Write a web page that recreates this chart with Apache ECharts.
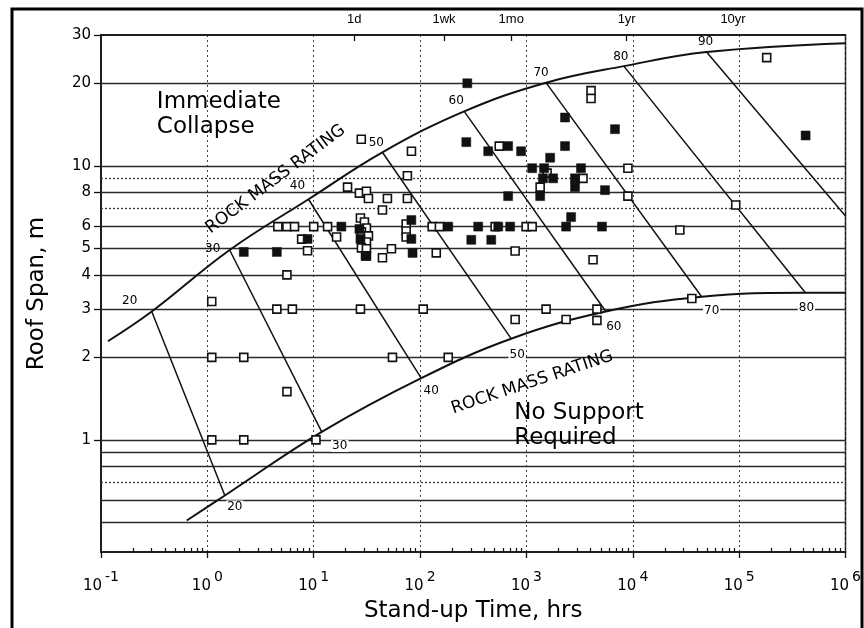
<!DOCTYPE html>
<html><head><meta charset="utf-8">
<script src="https://cdn.jsdelivr.net/npm/echarts@6/dist/echarts.min.js"></script>
<style>html,body{margin:0;padding:0;background:#fff}#c{width:864px;height:628px}</style>
</head><body><div id="c"></div>
<script>
// ---------- data (stand-up time in hours, roof span in metres) ----------
const spanTicks = [1, 2, 3, 4, 5, 6, 8, 10, 20, 30];
const spanLinesSolid = [20, 10, 8, 6, 5, 4, 3, 2, 1, 0.9, 0.8, 0.6, 0.5];
const spanLinesDotted = [9, 7, 0.7];
const timeMarks = [24, 168, 720, 8760, 87600];
const timeMarkNames = ['1d', '1wk', '1mo', '1yr', '10yr'];
const minorTimeTicks = [];
[0.1, 1, 10, 100, 1000, 10000, 100000].forEach(d => { for (let k = 2; k <= 9; k++) minorTimeTicks.push(d * k); });

const upperCurve = [[0.116,2.29],[0.30,2.94],[1.62,4.93],[8.93,7.55],[44.2,11.2],[260,15.8],[1528,20.1],[8240,23.1],[49400,26.0],[1e6,28.0]];
const lowerCurve = [[0.64,0.508],[1.46,0.627],[11.9,1.07],[102.5,1.68],[718,2.34],[5580,2.94],[44400,3.33],[420000,3.44],[1e6,3.44]];

const rmrValues = [20, 30, 40, 50, 60, 70, 80, 90];
const rmrTop = [[0.30,2.94],[1.62,4.93],[8.93,7.55],[44.2,11.2],[260,15.8],[1528,20.1],[8240,23.1],[49400,26.0]];
const rmrBottom = [[1.46,0.627],[11.9,1.07],[102.5,1.68],[718,2.34],[5580,2.94],[44400,3.33],[420000,3.44],[1e6,6.56]];

const openCases = [
[1.1,1],[2.2,1],[10.5,1],[1.1,2],[2.2,2],[5.6,1.5],[55,2],[184,2],[1.1,3.2],[4.5,3],[6.3,3],[27.5,3],[107,3],
[1530,3],[783,2.75],[2360,2.75],[4600,3.0],[4600,2.73],[35900,3.28],[5.6,4],[4230,4.54],
[4.6,6],[5.6,6],[6.6,6],[10,6],[13.5,6],[7.7,5.4],[8.75,4.9],[16.4,5.5],[28,12.5],[83,11.3],[76,9.2],
[20.8,8.36],[26.9,7.95],[31.3,8.07],[32.7,7.6],[49.3,7.6],[76,7.6],[44.3,6.9],
[27.5,6.45],[30,6.24],[31.3,5.93],[28.1,5.74],[32.7,5.55],[31.3,5.27],[28.1,5.02],[31.3,4.98],[31.3,4.69],
[74,6.13],[74,5.78],[74,5.5],[44.3,4.62],[53.8,4.98],[142,4.81],[130,6],[152,6],[508,6],[994,6],[1132,6],
[555,11.8],[1563,9.4],[1346,8.36],[3404,9.0],[4050,18.8],[4050,17.6],[9000,9.8],[9000,7.75],[783,4.89],
[181600,24.8],[92900,7.19],[27700,5.83]
];
const filledCases = [
[2.2,4.85],[4.5,4.85],[8.75,5.41],[18.2,6],[30.7,4.69],[26.9,5.88],[27.5,5.41],[82.8,6.34],[82.8,5.41],[85,4.81],
[184,6],[303,5.37],[467,5.37],[352,6],[543,6],[703,6],[2360,6],[5130,6],[2630,6.5],[278,20],[272,12.2],[437,11.3],
[673,11.8],[891,11.3],[2306,15.0],[2306,11.8],[6800,13.6],[1671,10.7],[1132,9.8],[1466,9.8],[1430,9.0],[1782,9.0],
[1346,7.75],[673,7.75],[3257,9.8],[2863,9.0],[2863,8.36],[5480,8.15],[421700,12.9]
];

// annotation anchors (data coordinates)
const notes = [
  {text: 'Immediate\nCollapse', at: [0.335, 15.4], rotate: 0, size: 23, pos: 'right'},
  {text: 'No Support\nRequired', at: [767, 1.129], rotate: 0, size: 23, pos: 'right'},
  {text: 'ROCK MASS RATING', at: [4.39, 8.93], rotate: 37, size: 17, pos: 'inside'},
  {text: 'ROCK MASS RATING', at: [1132, 1.62], rotate: 18.5, size: 17, pos: 'inside'}
];

// ---------- layout / style ----------
const FONT = 'DejaVu Sans';
const INK = '#000';
const topLabelOffsets = [[-22,-11],[-17,-1],[-11,-13],[-6,-9],[-8,-10],[-5,-10],[-3,-9],[-1,-10]];
const bottomLabelOffsets = [[10,11],[18,14],[10,13],[6,16],[8,15],[10,14],[1,15]];

const chart = echarts.init(document.getElementById('c'), null, {renderer: 'canvas'});

const rmrLineSeries = rmrValues.map((v, i) => ({
  type: 'line', xAxisIndex: 0, yAxisIndex: 0, data: [rmrTop[i], rmrBottom[i]],
  symbol: 'none', lineStyle: {color: '#111', width: 1.5}, silent: true, z: 3
}));

const markLines = spanLinesSolid.map(v => ({yAxis: v, lineStyle: {type: 'solid', color: '#2a2a2a', width: 1.3}}))
  .concat(spanLinesDotted.map(v => ({yAxis: v, lineStyle: {type: [2, 2], color: '#3a3a3a', width: 1.3}})));

const labelScatterBase = {type: 'scatter', xAxisIndex: 0, yAxisIndex: 0, symbolSize: 0, silent: true, z: 6,
  itemStyle: {opacity: 1, color: 'transparent'}};

const option = {
  animation: false,
  backgroundColor: '#fff',
  textStyle: {fontFamily: FONT},
  grid: {left: 101, right: 17, top: 35, bottom: 73, show: true, borderColor: '#111', borderWidth: 1.5},
  xAxis: [
    {
      type: 'log', logBase: 10, min: 0.1, max: 1e6, position: 'bottom',
      name: 'Stand-up Time, hrs', nameLocation: 'middle', nameGap: 48,
      nameTextStyle: {fontFamily: FONT, fontSize: 23, color: INK},
      axisLine: {show: true, lineStyle: {color: '#111', width: 1.5}},
      axisTick: {show: true, inside: false, length: 6, lineStyle: {color: '#111', width: 1.3}},
      splitLine: {show: true, lineStyle: {type: [2, 3], color: '#444', width: 1}},
      axisLabel: {
        margin: 18, color: INK, fontFamily: FONT,
        formatter: v => '{b|10}{s|' + Math.round(Math.log10(v)) + '}',
        rich: {
          b: {fontSize: 15, fontFamily: FONT, color: INK, verticalAlign: 'bottom'},
          s: {fontSize: 14, fontFamily: FONT, color: INK, verticalAlign: 'bottom', padding: [0, 0, 10, 3]}
        }
      }
    },
    {
      type: 'log', logBase: 10, min: 0.1, max: 1e6, position: 'bottom',
      axisLine: {show: false}, axisLabel: {show: false}, splitLine: {show: false},
      axisTick: {show: true, inside: true, length: 4, customValues: minorTimeTicks, lineStyle: {color: '#111', width: 1.2}}
    },
    {
      type: 'log', logBase: 10, min: 0.1, max: 1e6, position: 'top',
      axisLine: {show: true, lineStyle: {color: '#111', width: 1.5}}, splitLine: {show: false},
      axisTick: {show: true, inside: true, length: 6, customValues: timeMarks.slice(0, 4), lineStyle: {color: '#111', width: 1.3}},
      axisLabel: {
        show: true, margin: 9, customValues: timeMarks, fontFamily: 'Liberation Sans', fontSize: 13, color: INK,
        formatter: v => {
          let best = 0;
          timeMarks.forEach((m, i) => { if (Math.abs(Math.log(m) - Math.log(v)) < Math.abs(Math.log(timeMarks[best]) - Math.log(v))) best = i; });
          return timeMarkNames[best];
        }
      }
    }
  ],
  yAxis: [{
    type: 'log', logBase: 10, min: 0.39, max: 30,
    name: 'Roof Span, m', nameLocation: 'middle', nameGap: 52, nameRotate: 90,
    nameTextStyle: {fontFamily: FONT, fontSize: 23, color: INK},
    axisLine: {show: true, lineStyle: {color: '#111', width: 1.5}},
    axisTick: {show: true, inside: false, length: 7, customValues: spanTicks, lineStyle: {color: '#111', width: 1.3}},
    axisLabel: {show: true, margin: 10, customValues: spanTicks, fontFamily: FONT, fontSize: 15, color: INK},
    splitLine: {show: false}
  }],
  series: [
    {
      type: 'line', xAxisIndex: 0, yAxisIndex: 0, data: upperCurve, smooth: 0.4, symbol: 'none',
      lineStyle: {color: '#111', width: 2}, silent: true, z: 3,
      markLine: {silent: true, symbol: ['none', 'none'], label: {show: false}, animation: false, data: markLines, z: 1}
    },
    {
      type: 'line', xAxisIndex: 0, yAxisIndex: 0, data: lowerCurve, smooth: 0.4, symbol: 'none',
      lineStyle: {color: '#111', width: 2}, silent: true, z: 3
    },
    ...rmrLineSeries,
    Object.assign({}, labelScatterBase, {
      data: rmrTop.map((p, i) => ({value: p, name: String(rmrValues[i]), label: {offset: topLabelOffsets[i]}})),
      label: {show: true, position: 'inside', formatter: '{b}', fontFamily: FONT, fontSize: 12, color: INK}
    }),
    Object.assign({}, labelScatterBase, {
      data: rmrBottom.slice(0, 7).map((p, i) => ({value: p, name: String(rmrValues[i]), label: {offset: bottomLabelOffsets[i]}})),
      label: {show: true, position: 'inside', formatter: '{b}', fontFamily: FONT, fontSize: 12, color: INK, backgroundColor: '#fff', padding: [0, 1]}
    }),
    {
      type: 'scatter', xAxisIndex: 0, yAxisIndex: 0, data: openCases, symbol: 'rect', symbolSize: 8, z: 5,
      itemStyle: {color: '#fff', borderColor: '#111', borderWidth: 1.6, opacity: 1}
    },
    {
      type: 'scatter', xAxisIndex: 0, yAxisIndex: 0, data: filledCases, symbol: 'rect', symbolSize: 9, z: 5,
      itemStyle: {color: '#111', borderColor: '#111', borderWidth: 0.5, opacity: 1}
    },
    Object.assign({}, labelScatterBase, {
      z: 7,
      data: notes.map(n => ({
        value: n.at, name: n.text,
        label: {show: true, position: n.pos, distance: 0, rotate: n.rotate, fontSize: n.size,
          align: n.pos === 'right' ? 'left' : 'center', lineHeight: Math.round(n.size * 1.1)}
      })),
      label: {show: true, formatter: '{b}', fontFamily: FONT, color: INK}
    })
  ],
  graphic: [{
    type: 'rect', silent: true, z: 100,
    shape: {x: 12, y: 9, width: 850, height: 640},
    style: {fill: 'none', stroke: '#000', lineWidth: 3}
  }]
};
chart.setOption(option);
</script></body></html>
